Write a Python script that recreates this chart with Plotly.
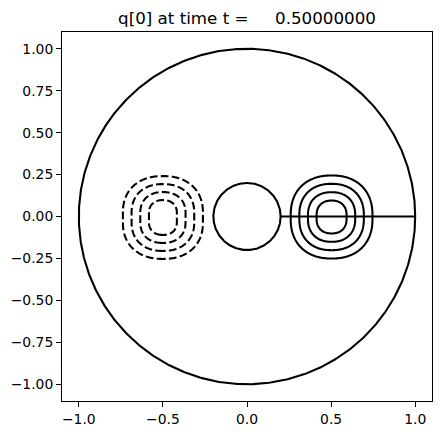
import numpy as np
import plotly.graph_objects as go

# ---- domain geometry (annulus with a slit) ----
r_inner = 0.2
r_outer = 1.0
slit_x = [0.2, 1.0]
slit_y = [0.0, 0.0]

# ---- field blobs: rounded cones ----
blob_cx = [0.503, -0.5]
blob_cy = [-0.003, -0.006]
blob_amp = [1.147, -1.121]   # peak value
blob_D = [0.2944, 0.2896]    # cone radius
blob_hy = [0.0116, 0.0274]   # half-height of vertical core
blob_ky = [1.03, 1.084]      # vertical stretch factor
shape_p = 2.25               # squareness of level curves

pos_levels = [0.2, 0.4, 0.6, 0.8]
neg_levels = [-0.8, -0.6, -0.4, -0.2]

tick_vals = [-1.0, -0.5, 0.0, 0.5, 1.0]
tick_text_x = ["\u22121.0", "\u22120.5", "0.0", "0.5", "1.0"]
ytick_vals = [-1.0, -0.75, -0.5, -0.25, 0.0, 0.25, 0.5, 0.75, 1.0]
ytick_text = ["\u22121.00", "\u22120.75", "\u22120.50", "\u22120.25", "0.00",
              "0.25", "0.50", "0.75", "1.00"]

title_text = "q[0] at time t =" + "\u00a0" * 5 + "0.50000000"

# ---- build field ----
xs = np.linspace(-1.0, 1.0, 501)
ys = np.linspace(-1.0, 1.0, 501)
X, Y = np.meshgrid(xs, ys)
Z = np.zeros_like(X)
for cx, cy, A, D, hy, ky in zip(blob_cx, blob_cy, blob_amp, blob_D, blob_hy, blob_ky):
    dx = np.abs(X - cx)
    dy = np.maximum(np.abs(Y - cy) - hy, 0.0) * ky
    d = (dx**shape_p + dy**shape_p) ** (1.0 / shape_p)
    Z += A * np.maximum(1.0 - d / D, 0.0)
R = np.sqrt(X**2 + Y**2)
Z[(R > r_outer) | (R < r_inner)] = np.nan

LW = 2.08  # 1.5 pt at 100 dpi

fig = go.Figure()
black = [[0, "black"], [1, "black"]]
fig.add_trace(go.Contour(
    x=xs, y=ys, z=Z, showscale=False, colorscale=black, hoverinfo="skip",
    contours=dict(start=pos_levels[0], end=pos_levels[-1],
                  size=pos_levels[1] - pos_levels[0], coloring="lines"),
    line=dict(color="black", width=LW),
))
fig.add_trace(go.Contour(
    x=xs, y=ys, z=Z, showscale=False, colorscale=black, hoverinfo="skip",
    contours=dict(start=neg_levels[0], end=neg_levels[-1],
                  size=neg_levels[1] - neg_levels[0], coloring="lines"),
    line=dict(color="black", width=LW, dash="7.7px,3.3px"),
))

th = np.linspace(0, 2 * np.pi, 721)
for rr in [r_outer, r_inner]:
    fig.add_trace(go.Scatter(x=rr * np.cos(th), y=rr * np.sin(th), mode="lines",
                             line=dict(color="black", width=LW), hoverinfo="skip",
                             showlegend=False))
fig.add_trace(go.Scatter(x=slit_x, y=slit_y, mode="lines",
                         line=dict(color="black", width=LW), hoverinfo="skip",
                         showlegend=False))

axis_common = dict(range=[-1.1, 1.1], showgrid=False, zeroline=False, automargin=False,
                   showline=True, mirror=True, linecolor="black", linewidth=1.1,
                   ticks="outside", ticklen=4.9, tickwidth=1.1, tickcolor="black",
                   tickfont=dict(family="DejaVu Sans", size=13.9, color="black"))
# page body has an 8px margin, so the figure is 8px smaller and offsets shifted
fig.update_layout(
    width=433, height=427,
    margin=dict(l=54, r=9, t=24, b=34, autoexpand=False),
    plot_bgcolor="white", paper_bgcolor="white",
    showlegend=False,
    title=dict(text=title_text, x=0.5, xref="paper", xanchor="center",
               y=1 - 10 / 427, yref="container", yanchor="middle",
               font=dict(family="DejaVu Sans", size=16.7, color="black")),
    xaxis=dict(tickmode="array", tickvals=tick_vals, ticktext=tick_text_x, **axis_common),
    yaxis=dict(tickmode="array", tickvals=ytick_vals, ticktext=ytick_text, **axis_common),
)

fig.write_html("out.html")
